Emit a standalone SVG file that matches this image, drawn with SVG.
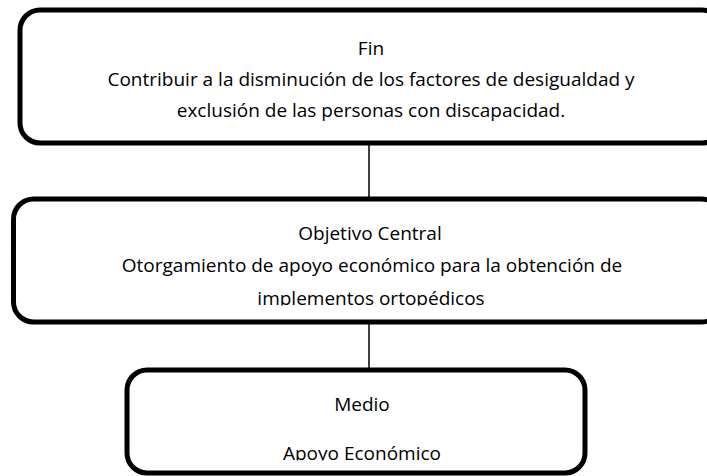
<svg xmlns="http://www.w3.org/2000/svg" width="707" height="476" viewBox="0 0 707 476">
<style>
.box{fill:#fff;stroke:#000;stroke-width:5}
.t{font-family:"Open Sans","Liberation Sans",Arial,sans-serif;font-size:19px;fill:#000;text-anchor:middle}
.c{stroke:#000;stroke-width:1.5;fill:none}
</style>
<defs>
<clipPath id="clip2"><rect x="0" y="0" width="707" height="305.5"/></clipPath>
<clipPath id="clip3"><rect x="0" y="0" width="707" height="460.5"/></clipPath>
</defs>
<rect width="707" height="476" fill="#fff"/>
<g id="connectors">
<line class="c" x1="369" y1="145" x2="369" y2="197"/>
<line class="c" x1="369" y1="324" x2="369" y2="368"/>
</g>
<g id="fin">
<rect class="box" x="20" y="10" width="702" height="133" rx="20"/>
<text class="t" x="371" y="55">Fin</text>
<text class="t" x="371" y="86">Contribuir a la disminución de los factores de desigualdad y</text>
<text class="t" x="371" y="117">exclusión de las personas con discapacidad.</text>
</g>
<g id="objetivo">
<rect class="box" x="13.5" y="199" width="708" height="123" rx="20"/>
<text class="t" x="370" y="240">Objetivo Central</text>
<text class="t" x="372" y="272">Otorgamiento de apoyo económico para la obtención de</text>
<g clip-path="url(#clip2)"><text class="t" x="371" y="305">implementos ortopédicos</text></g>
</g>
<g id="medio">
<rect class="box" x="127" y="370" width="458" height="103" rx="20"/>
<text class="t" x="362" y="411">Medio</text>
<g clip-path="url(#clip3)"><text class="t" x="362" y="460">Apoyo Económico</text></g>
</g>
</svg>
